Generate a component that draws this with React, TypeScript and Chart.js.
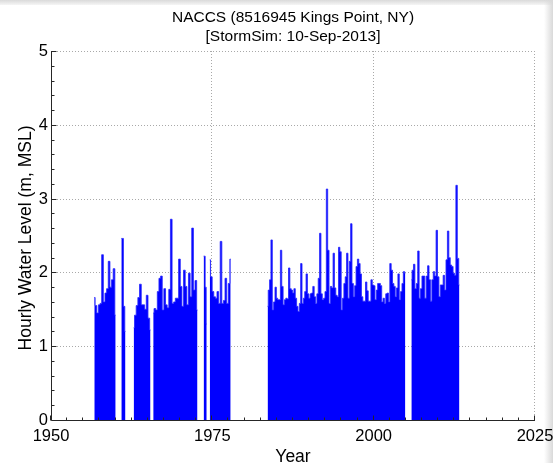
import React, { useEffect, useRef } from "react";
import { Chart, registerables } from "chart.js";

Chart.register(...registerables);

const TITLE_LINES = ["NACCS (8516945 Kings Point, NY)", "[StormSim: 10-Sep-2013]"];
const X_LABEL = "Year";
const Y_LABEL = "Hourly Water Level (m, MSL)";

const X_TICKS = [1950, 1975, 2000, 2025];
const Y_TICKS = [0, 1, 2, 3, 4, 5];
const X_MINOR_STEP = 2.5;
const Y_MINOR_STEP = 0.2;

// Gauge record periods [first year, last year] (decimal years) and the
// hourly water level peaks (m, MSL) sampled evenly across each period.
const SPAN_A = [1956.71, 1960.02];
const LEVELS_A = [1.66, 1.55, 1.45, 1.56, 1.58, 2.24, 1.6, 1.72, 1.78, 2.15, 1.8, 1.9, 2.05, 1.42];

const SPAN_B = [1960.9, 1961.54];
const LEVELS_B = [2.46, 2.46, 1.54, 1.2];

const SPAN_C = [1962.81, 1965.42];
const LEVELS_C = [1.25, 1.42, 1.55, 1.66, 1.84, 1.56, 1.56, 1.5, 1.69, 1.38, 1.22];

const SPAN_D = [1965.84, 1972.7];
const LEVELS_D = [
  1.45, 1.51, 1.49, 1.74, 1.92, 1.95, 1.49, 1.78, 1.56, 1.52, 1.77, 2.72, 1.58, 1.6,
  1.65, 1.65, 2.18, 1.81, 1.54, 2.03, 1.81, 1.56, 1.99, 1.67, 2.6, 1.76, 1.89, 1.49,
];

const SPAN_E = [1973.65, 1974.13];
const LEVELS_E = [2.22, 2.22, 1.8, 1.3];

const SPAN_F = [1974.6, 1977.84];
const LEVELS_F = [2.17, 1.94, 1.74, 1.67, 1.65, 1.74, 1.58, 2.42, 1.58, 1.62, 1.92, 1.58, 1.85, 2.18];

const SPAN_G = [1983.56, 2004.91];
const LEVELS_G = [
  1.54, 1.76, 1.9, 2.44, 1.49, 1.6, 1.8, 1.65, 1.63, 1.63,
  2.3, 1.81, 1.56, 1.63, 1.65, 1.64, 2.06, 1.78, 1.76, 1.72,
  1.78, 1.65, 1.54, 1.47, 1.58, 2.12, 1.58, 1.65, 1.74, 1.98,
  1.71, 1.65, 1.71, 1.72, 1.81, 1.67, 1.58, 1.71, 1.92, 2.53,
  1.71, 1.63, 1.65, 1.74, 3.13, 2.3, 1.58, 1.81, 1.79, 2.26,
  1.79, 1.69, 1.67, 2.34, 2.28, 1.49, 1.65, 1.85, 1.94, 2.26,
  1.65, 2.15, 2.66, 1.85, 1.67, 1.82, 2.08, 2.18, 2.12, 1.98,
  1.67, 1.61, 1.61, 1.87, 1.75, 1.61, 1.61, 1.9, 1.83, 1.82,
  1.63, 1.76, 1.85, 1.85, 1.82, 1.6, 1.65, 1.58, 1.71, 1.72,
  1.6, 2.12, 2.03, 1.85, 1.81, 1.67, 1.79, 1.98, 1.63, 1.74,
  1.85, 2.01, 1.99,
];

const SPAN_H = [2005.84, 2013.29];
const LEVELS_H = [
  1.9, 2.03, 2.11, 1.78, 1.85, 2.29, 1.65, 1.78, 1.95, 1.95,
  1.65, 1.95, 2.09, 1.9, 1.61, 1.9, 2.01, 1.95, 2.57, 1.94,
  1.67, 1.83, 1.83, 1.96, 1.76, 2.17, 2.56, 2.2, 2.1, 2.08,
  1.99, 1.96, 3.18, 2.19, 1.83,
];

const PERIODS: [number[], number[]][] = [
  [SPAN_A, LEVELS_A],
  [SPAN_B, LEVELS_B],
  [SPAN_C, LEVELS_C],
  [SPAN_D, LEVELS_D],
  [SPAN_E, LEVELS_E],
  [SPAN_F, LEVELS_F],
  [SPAN_G, LEVELS_G],
  [SPAN_H, LEVELS_H],
];

const FONT = '"Liberation Sans", Arial, Helvetica, sans-serif';
const BLUE = "#0000ff";

function buildPoints() {
  const pts: { x: number; y: number | null }[] = [];
  let prevEnd = 0;
  PERIODS.forEach(([[start, end], levels], k) => {
    if (k > 0) pts.push({ x: (prevEnd + start) / 2, y: null });
    const n = levels.length;
    levels.forEach((v, i) => pts.push({ x: start + ((end - start) * i) / (n - 1), y: v }));
    prevEnd = end;
  });
  return pts;
}

const framePlugin = {
  id: "matlabFrame",
  beforeDraw(chart: any) {
    // white plotting box only; the page edges keep their shading
    const { ctx, chartArea: a } = chart;
    ctx.save();
    ctx.fillStyle = "#ffffff";
    ctx.fillRect(a.left, a.top, a.right - a.left, a.bottom - a.top);
    ctx.restore();
  },
  beforeDatasetsDraw(chart: any) {
    const { ctx, chartArea: a, scales } = chart;
    const xs = scales.x;
    const ys = scales.y;
    ctx.save();
    ctx.strokeStyle = "#a9a9a9";
    ctx.lineWidth = 1;
    ctx.setLineDash([1, 2]);
    X_TICKS.slice(1).forEach((t) => {
      const px = Math.round(xs.getPixelForValue(t)) - 0.5;
      ctx.beginPath();
      ctx.moveTo(px, a.top);
      ctx.lineTo(px, a.bottom);
      ctx.stroke();
    });
    Y_TICKS.slice(1).forEach((t) => {
      const py = Math.round(ys.getPixelForValue(t)) + 0.5;
      ctx.beginPath();
      ctx.moveTo(a.left, py);
      ctx.lineTo(a.right, py);
      ctx.stroke();
    });
    ctx.restore();
  },
  afterDatasetsDraw(chart: any) {
    const { ctx, chartArea: a, scales } = chart;
    const xs = scales.x;
    const ys = scales.y;
    const left = a.left + 0.5;
    const bottom = a.bottom + 0.5;
    ctx.save();
    ctx.setLineDash([]);
    ctx.strokeStyle = "#262626";
    ctx.lineWidth = 1;
    ctx.beginPath();
    ctx.moveTo(left, a.top);
    ctx.lineTo(left, bottom);
    ctx.lineTo(a.right, bottom);
    ctx.stroke();

    // minor and major ticks, pointing into the axes
    ctx.beginPath();
    const nx = Math.round((X_TICKS[X_TICKS.length - 1] - X_TICKS[0]) / X_MINOR_STEP);
    for (let k = 0; k <= nx; k++) {
      const px = Math.round(xs.getPixelForValue(X_TICKS[0] + k * X_MINOR_STEP)) - 0.5;
      const len = k % 10 === 0 ? 5 : 3;
      ctx.moveTo(px, bottom);
      ctx.lineTo(px, bottom - len);
    }
    const ny = Math.round((Y_TICKS[Y_TICKS.length - 1] - Y_TICKS[0]) / Y_MINOR_STEP);
    for (let k = 0; k <= ny; k++) {
      const py = Math.round(ys.getPixelForValue(Y_TICKS[0] + k * Y_MINOR_STEP)) + 0.5;
      const len = k % 5 === 0 ? 5 : 3;
      ctx.moveTo(left, py);
      ctx.lineTo(left + len, py);
    }
    ctx.stroke();

    // tick labels
    ctx.fillStyle = "#000000";
    ctx.font = `16.5px ${FONT}`;
    ctx.textAlign = "right";
    ctx.textBaseline = "middle";
    Y_TICKS.forEach((t) => {
      ctx.fillText(String(t), a.left - 3, ys.getPixelForValue(t) + 0.5);
    });
    ctx.textAlign = "center";
    ctx.textBaseline = "alphabetic";
    X_TICKS.forEach((t) => {
      ctx.fillText(String(t), xs.getPixelForValue(t), a.bottom + 21);
    });

    // axis titles
    const cx = (a.left + a.right) / 2;
    ctx.font = `17.5px ${FONT}`;
    ctx.fillText(X_LABEL, cx, a.bottom + 41.5);
    ctx.save();
    ctx.translate(26, 238);
    ctx.rotate(-Math.PI / 2);
    ctx.textBaseline = "middle";
    ctx.fillText(Y_LABEL, 0, 0);
    ctx.restore();

    // title
    ctx.font = `15.5px ${FONT}`;
    ctx.textBaseline = "alphabetic";
    ctx.fillText(TITLE_LINES[0], cx, 21.5);
    ctx.fillText(TITLE_LINES[1], cx, 41);
    ctx.restore();
  },
};

export default function App() {
  const canvasRef = useRef<HTMLCanvasElement>(null);

  useEffect(() => {
    const canvas = canvasRef.current;
    if (!canvas) return;
    const chart = new Chart(canvas, {
      type: "line",
      data: {
        datasets: [
          {
            data: buildPoints() as any,
            borderColor: "rgba(40,40,255,0.85)",
            backgroundColor: BLUE,
            borderWidth: 1,
            fill: "origin",
            stepped: "middle",
            pointRadius: 0,
            spanGaps: false,
          },
        ],
      },
      options: {
        responsive: false,
        animation: false,
        events: [],
        layout: { padding: { left: 51, top: 51, right: 18, bottom: 43 } },
        scales: {
          x: { type: "linear", min: X_TICKS[0], max: X_TICKS[X_TICKS.length - 1], display: false },
          y: { type: "linear", min: Y_TICKS[0], max: Y_TICKS[Y_TICKS.length - 1], display: false },
        },
        plugins: {
          legend: { display: false },
          tooltip: { enabled: false },
          title: { display: false },
        },
      },
      plugins: [framePlugin],
    });
    return () => chart.destroy();
  }, []);

  return (
    <div
      style={{
        position: "fixed",
        left: 0,
        top: 0,
        width: 553,
        height: 463,
        background: "#ffffff",
        overflow: "hidden",
      }}
    >
      <div
        style={{
          position: "absolute",
          left: 0,
          top: 0,
          width: 553,
          height: 5,
          background: "linear-gradient(#dadada, #f5f5f5)",
        }}
      />
      <div
        style={{
          position: "absolute",
          right: 0,
          top: 0,
          width: 9,
          height: 463,
          background: "linear-gradient(to right, rgba(235,235,235,0), #d9d9d9)",
        }}
      />
      <canvas
        ref={canvasRef}
        width={553}
        height={463}
        style={{ position: "absolute", left: 0, top: 0, display: "block", width: 553, height: 463 }}
      />
    </div>
  );
}
